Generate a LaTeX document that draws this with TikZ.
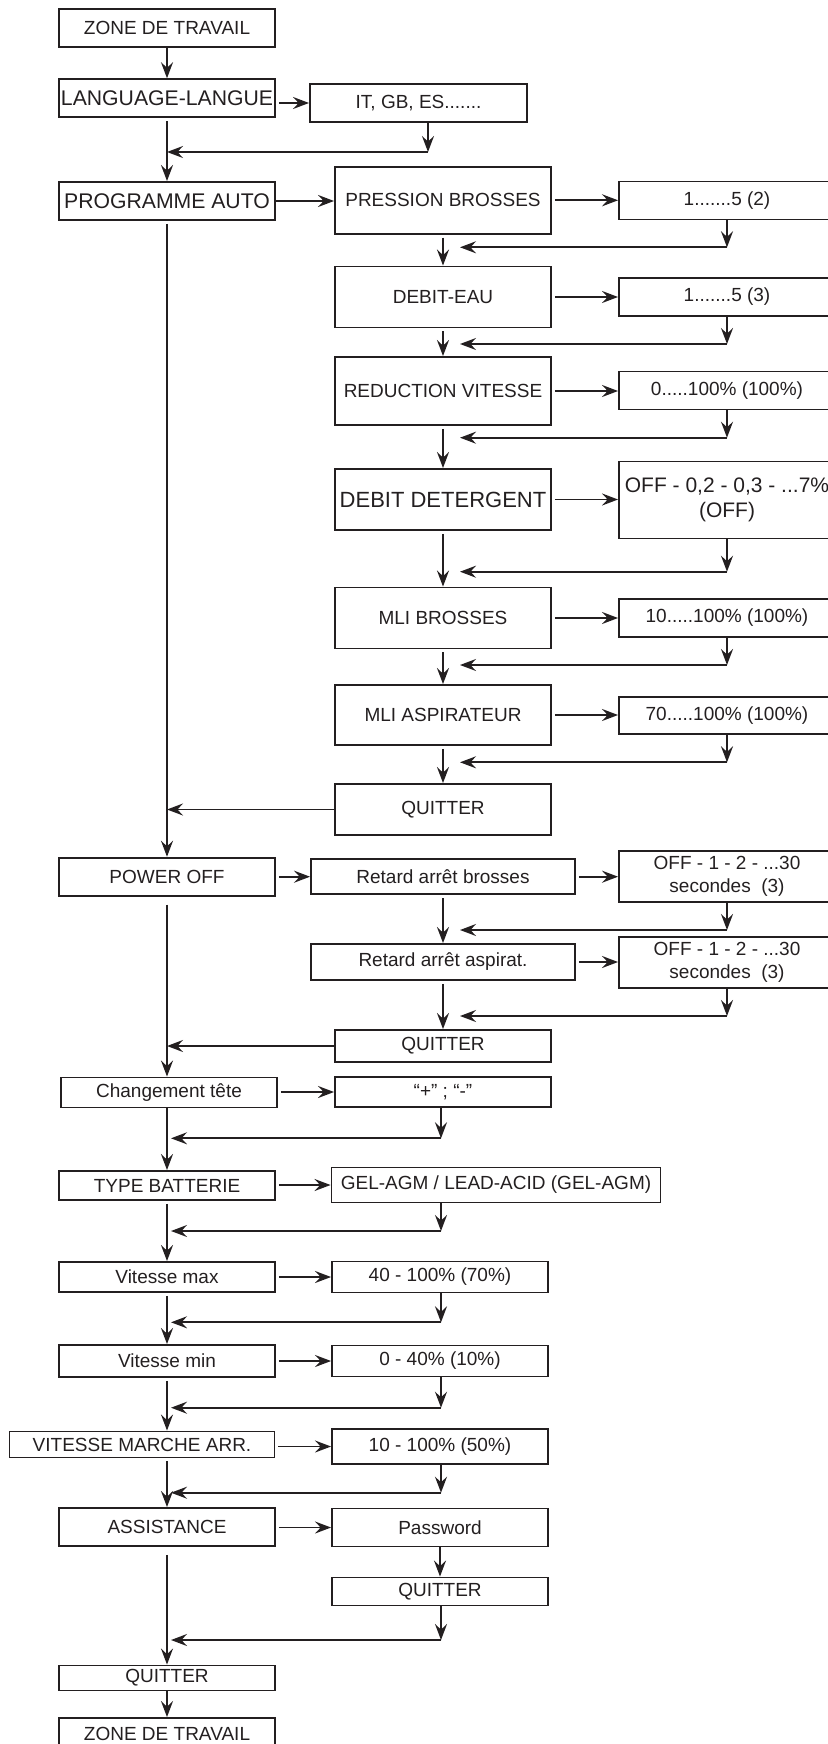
\documentclass[tikz,border=0pt]{standalone}
\usepackage{fontspec}
\setmainfont{Liberation Sans}
\usetikzlibrary{arrows.meta,positioning}
\definecolor{mnblack}{RGB}{35,31,32}

\begin{document}
\begin{tikzpicture}[
    x=0.5pt, y=-0.5pt,
    >={Stealth[length=8pt,width=6pt,inset=2.8pt]},
    box/.style={
        draw=mnblack,
        line width=0.95pt,
        inner sep=0pt,
        text=mnblack,
        align=center,
        minimum width=108pt,
        minimum height=19pt,
        font=\fontsize{9.5}{11.5}\selectfont
    },
    big/.style={font=\fontsize{10.6}{12.5}\selectfont},
    link/.style={->, line width=0.9pt, mnblack},
    gap/.style={shorten <=1.5pt}
]
\useasboundingbox (0,0) rectangle (827,1744);

% Left column.
\node[box] (zoneA) at (167,28.3) {ZONE DE TRAVAIL};
\node[box, big] (lang) at (167,98.2) {LANGUAGE-LANGUE};
\node[box, big] (prog) at (167,201) {PROGRAMME AUTO};
\node[box] (poff) at (167,876.7) {POWER OFF};
\node[box, minimum height=15pt] (chg) at (169,1092.5) {Changement tête};
\node[box, minimum height=14.5pt] (batt) at (167,1185.5) {TYPE BATTERIE};
\node[box, minimum height=15pt] (vmax) at (167,1277) {Vitesse max};
\node[box, minimum height=16pt] (vmin) at (167,1361) {Vitesse min};
\node[box, minimum height=13pt, minimum width=132.5pt] (vrev) at (142,1444.5) {VITESSE MARCHE ARR.};
\node[box] (assist) at (167,1527) {ASSISTANCE};
\node[box, minimum height=12.5pt] (quitE) at (167,1678) {QUITTER};
\node[box, minimum height=16pt] (zoneB) at (167,1734) {ZONE DE TRAVAIL};

% Middle column.
\node[box, minimum width=108.5pt] (lst) at (418.5,103) {IT, GB, ES.......};
\node[box, minimum height=33.5pt] (pres) at (443,200.3) {PRESSION BROSSES};
\node[box, minimum height=30.5pt] (debit) at (443,297) {DEBIT-EAU};
\node[box, minimum height=34pt] (reduc) at (443,391) {REDUCTION VITESSE};
\node[box, minimum height=30.5pt, font=\fontsize{11}{13}\selectfont] (deter) at (443,499.5) {DEBIT DETERGENT};
\node[box, minimum height=30.5pt] (mlib) at (443,618) {MLI BROSSES};
\node[box, minimum height=30pt] (mlia) at (443,715) {MLI ASPIRATEUR};
\node[box, minimum height=25.5pt] (quitA) at (443,809.5) {QUITTER};
\node[box, minimum height=17.5pt, minimum width=132pt] (retb) at (443,876.7) {Retard arrêt brosses};
\node[box, minimum height=18pt, minimum width=132pt] (reta) at (443,962) {Retard arrêt aspirat.};
\node[box, minimum height=16pt] (quitB) at (443,1046) {QUITTER};
\node[box, minimum height=15pt] (tete) at (443,1092) {“+” ; “-”};
\node[box, minimum height=17.5pt, minimum width=164.5pt] (gel) at (496,1185) {GEL-AGM / LEAD-ACID (GEL-AGM)};
\node[box, minimum height=15.5pt] (vmaxv) at (440,1277) {40 - 100\% (70\%)};
\node[box, minimum height=15.5pt] (vminv) at (440,1361) {0 - 40\% (10\%)};
\node[box, minimum height=17.5pt] (vrevv) at (440,1446.5) {10 - 100\% (50\%)};
\node[box] (pwd) at (440,1527.5) {Password};
\node[box, minimum height=14pt] (quitC) at (440,1591.5) {QUITTER};

% Right column.
\node[box] (v1) at (727,200.5) {1.......5 (2)};
\node[box] (v2) at (727,297) {1.......5 (3)};
\node[box] (v3) at (727,390.5) {0.....100\% (100\%)};
\node[box, minimum height=38.5pt, font=\fontsize{10.5}{12.5}\selectfont] (v4) at (727,500)
    {OFF - 0,2 - 0,3 - ...7\%\\(OFF)};
\node[box, minimum height=18.75pt] (v5) at (727,618) {10.....100\% (100\%)};
\node[box, minimum height=18.75pt] (v6) at (727,715.3) {70.....100\% (100\%)};
\node[box, minimum height=25.5pt] (v7) at (727,876.3) {OFF - 1 - 2 - ...30\\secondes\ \ (3)};
\node[box, minimum height=25.5pt] (v8) at (727,962.8) {OFF - 1 - 2 - ...30\\secondes\ \ (3)};

% Top part.
\draw[link] (zoneA) -- (lang);
\draw[link, gap] (lang.east |- lst) -- (lst.west);
\coordinate (klst) at (428,152);
\draw[link] (lst.south -| klst) -- (klst);
\draw[link] (klst) -- (klst -| lang.south);
\draw[link, gap] (lang) -- (prog);
\draw[link] (prog.east) -- (prog.east -| pres.west);

% Programme auto.
\foreach \a/\b in {pres/debit, debit/reduc, reduc/deter, deter/mlib, mlib/mlia, mlia/quitA, retb/reta, reta/quitB} {
    \draw[link, gap] (\a) -- (\b);
}
\foreach \a/\b in {pres/v1, debit/v2, reduc/v3, deter/v4, mlib/v5, mlia/v6, retb/v7, reta/v8} {
    \draw[link, gap] (\a.east) -- (\a.east -| \b.west);
}
\foreach \v/\y in {v1/247.3, v2/344, v3/437.7, v4/571.7, v5/665, v6/762.3, v7/930, v8/1016} {
    \coordinate (k\v) at (727,\y);
    \coordinate (t\v) at (460,\y);
    \draw[link] (\v) -- (k\v);
    \draw[link] (k\v) -- (t\v);
}
\draw[link, gap] (prog) -- (poff);
\draw[link] (quitA.west) -- (quitA.west -| prog.south);

% Power off.
\draw[link, gap] (poff.east) -- (poff.east -| retb.west);
\draw[link] (quitB.west) -- (quitB.west -| poff.south);
\draw[link, shorten <=4pt] (poff.south) -- (poff.south |- chg.north);

% Lower settings.
\foreach \a/\b in {chg/tete, batt/gel, vmax/vmaxv, vmin/vminv, vrev/vrevv, assist/pwd} {
    \draw[link, gap] (\a.east |- \b) -- (\b.west);
}
\foreach \v/\y in {tete/1138.3, gel/1231, vmaxv/1322.3, vminv/1407.7, vrevv/1492.7, quitC/1640} {
    \coordinate (k\v) at (441,\y);
    \coordinate (t\v) at (171,\y);
    \draw[link] (\v.south -| k\v) -- (k\v);
    \draw[link] (k\v) -- (t\v);
}
\draw[link] (chg.south -| batt.north) -- (batt.north);
\draw[link, gap] (batt) -- (vmax);
\draw[link, gap] (vmax) -- (vmin);
\draw[link, gap] (vmin) -- (vmin |- vrev.north);
\draw[link, gap] (vrev.south -| assist.north) -- (assist.north);
\draw[link] (pwd) -- (quitC);
\draw[link, shorten <=4pt] (assist) -- (quitE);
\draw[link] (quitE) -- (zoneB);

\end{tikzpicture}
\end{document}
